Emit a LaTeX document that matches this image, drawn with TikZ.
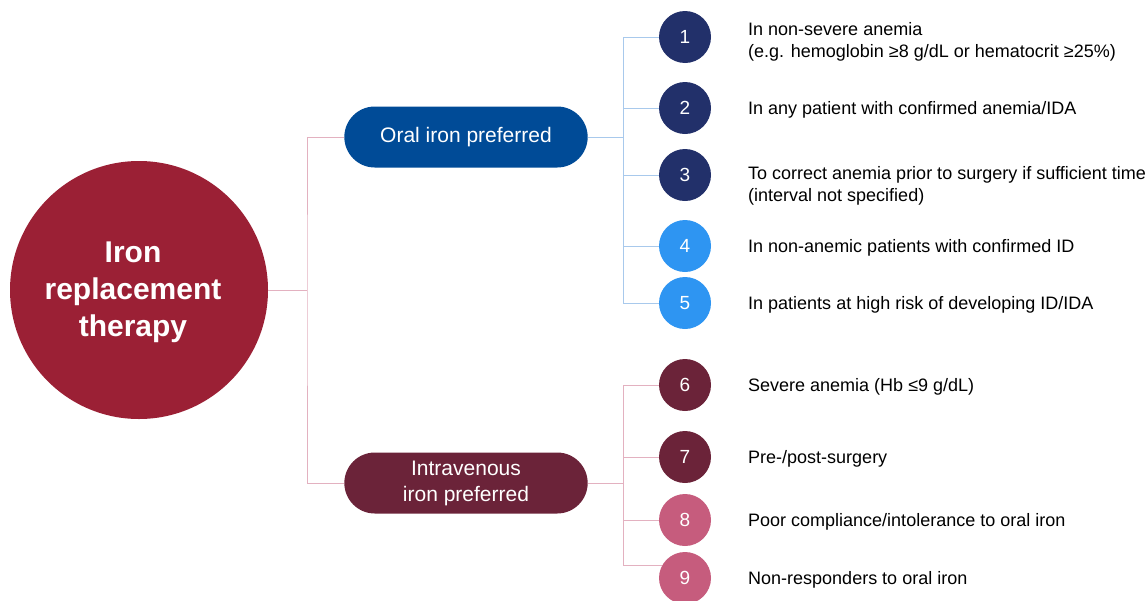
\documentclass[tikz,border=0pt]{standalone}
\usepackage{fontspec}
\setmainfont{Liberation Sans}
\usepackage{tikz}
\usetikzlibrary{calc}
\usetikzlibrary{shapes.misc}

\definecolor{rootred}{HTML}{9B2035}
\definecolor{oralblue}{HTML}{004B97}
\definecolor{ivwine}{HTML}{6B2339}
\definecolor{navy}{HTML}{22306A}
\definecolor{skyblue}{HTML}{2E95F2}
\definecolor{rose}{HTML}{C65C7D}
\definecolor{linepink}{HTML}{E3B1C0}
\definecolor{lineblue}{HTML}{A8C9EC}

\tikzset{
    pill/.style={rounded rectangle, minimum width=250pt, minimum height=61pt,
        text=white, align=center, font=\fontsize{21}{26}\selectfont},
    num/.style={circle, minimum size=52pt, inner sep=0pt, text=white,
        font=\fontsize{19}{20}\selectfont},
    item/.style={anchor=west, align=left, inner sep=0pt,
        font=\fontsize{18}{22}\selectfont}
}

\begin{document}
\begin{tikzpicture}[x=1pt, y=-1pt]
        \useasboundingbox (0,0) rectangle (1147,600);

        % branch points
        \coordinate (split) at (307,290);
        \coordinate (osplit) at (623,137);
        \coordinate (isplit) at (623,483);

        % root circle
        \node[circle, fill=rootred, minimum size=258pt, inner sep=0pt] (root) at (139,290) {};
        \node[text=white, align=center, font=\bfseries\fontsize{30}{37}\selectfont]
            (roottext) at (133,292) {Iron\\replacement\\therapy};

        % branches
        \node[pill, fill=oralblue] (oral) at (466,137) {Oral iron preferred};
        \node[pill, fill=ivwine] (iv) at (466,483) {Intravenous\\iron preferred};

        % numbered circles
        \foreach \n/\y/\c in {1/37/navy, 2/108/navy, 3/175/navy, 4/246/skyblue, 5/303/skyblue,
                               6/385/ivwine, 7/457/ivwine, 8/520/rose, 9/578/rose} {
            \node[num, fill=\c] (c\n) at (685,\y) {\n};
        }

        % tree lines
        \draw[linepink, thin] (root.east) -- (split);
        \draw[linepink, thin] (oral.west) -| (split) |- (iv.west);
        \draw[lineblue, thin] (oral.east) -- (osplit);
        \draw[lineblue, thin] (c1.west) -| (osplit) |- (c5.west);
        \foreach \n in {2,3,4} {
            \draw[lineblue, thin] (osplit |- c\n) -- (c\n.west);
        }
        \draw[linepink, thin] (iv.east) -- (isplit);
        \draw[linepink, thin] (c6.west) -| (isplit) |- (c9.150);
        \foreach \n in {7,8} {
            \draw[linepink, thin] (isplit |- c\n) -- (c\n.west);
        }

        % item texts
        \node[item] (t1) at (748,42) {In non-severe anemia\\(e.g. hemoglobin ≥8 g/dL or hematocrit ≥25\%)};
        \node[item] (t2) at (748,110) {In any patient with confirmed anemia/IDA};
        \node[item] (t3) at (748,186) {To correct anemia prior to surgery if sufficient time\\(interval not specified)};
        \node[item] (t4) at (748,248) {In non-anemic patients with confirmed ID};
        \node[item] (t5) at (748,305) {In patients at high risk of developing ID/IDA};
        \node[item] (t6) at (748,387) {Severe anemia (Hb ≤9 g/dL)};
        \node[item] (t7) at (748,459) {Pre-/post-surgery};
        \node[item] (t8) at (748,522) {Poor compliance/intolerance to oral iron};
        \node[item] (t9) at (748,580) {Non-responders to oral iron};

    \end{tikzpicture}
\end{document}
